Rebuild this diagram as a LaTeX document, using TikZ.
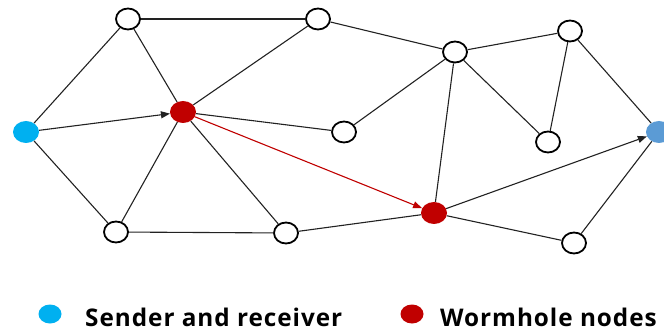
\documentclass[tikz,border=0pt]{standalone}
\usepackage{fontspec}
\setmainfont{Open Sans}
\newfontfamily\legfont[LetterSpace=4]{Open Sans}
\usetikzlibrary{shapes.geometric,arrows.meta}
\definecolor{sendc}{HTML}{00B0F0}
\definecolor{recvc}{HTML}{5B9BD5}
\definecolor{wormc}{HTML}{C00000}
\definecolor{edgec}{HTML}{222222}
\begin{document}
\begin{tikzpicture}[x=1pt,y=-1pt,
  opennode/.style={ellipse,draw=black,line width=1.8pt,fill=white,minimum width=24pt,minimum height=21pt,inner sep=0pt},
  filled/.style={ellipse,draw=none,minimum width=26pt,minimum height=22pt,inner sep=0pt},
  link/.style={draw=edgec,line width=1.1pt},
  arr/.style={link,-{Triangle[length=9pt,width=7pt]}},
  redarr/.style={draw=wormc,line width=1.1pt,-{Triangle[length=9pt,width=7pt]}},
  legdot/.style={ellipse,draw=none,minimum width=23pt,minimum height=19pt,inner sep=0pt},
  legtext/.style={anchor=base west,inner sep=0pt,font=\legfont\bfseries\fontsize{24.3pt}{28pt}\selectfont}
]
\useasboundingbox (0,0) rectangle (664,331);
\path (26,132) node[filled,fill=sendc] (S) {};
\path (659,132) node[filled,fill=recvc] (R) {};
\path (128,19) node[opennode] (A) {};
\path (318,19) node[opennode] (B) {};
\path (183,112) node[filled,fill=wormc] (W1) {};
\path (116,232) node[opennode] (C) {};
\path (286,233) node[opennode] (D) {};
\path (344,132) node[opennode] (I) {};
\path (455,52) node[opennode] (E) {};
\path (570,31) node[opennode] (F) {};
\path (548,142) node[opennode] (G) {};
\path (434,213) node[filled,fill=wormc] (W2) {};
\path (574,243) node[opennode] (H) {};
\draw[link] (S) -- (A);
\draw[link] (S) -- (C);
\draw[link] (A) -- (B);
\draw[link] (A) -- (W1);
\draw[link] (B) -- (W1);
\draw[link] (W1) -- (I);
\draw[link] (W1) -- (C);
\draw[link] (W1) -- (D);
\draw[link] (C) -- (D);
\draw[link] (D) -- (W2);
\draw[link] (B) -- (E);
\draw[link] (I) -- (E);
\draw[link] (E) -- (F);
\draw[link] (E) -- (G);
\draw[link] (E) -- (W2);
\draw[link] (F) -- (G);
\draw[link] (F) -- (R);
\draw[link] (W2) -- (H);
\draw[link] (H) -- (R);
\draw[arr] (S) -- (W1);
\draw[arr] (W2) -- (R);
\draw[redarr] (W1) -- (W2);
% legend
\node[legdot,fill=sendc] (L1) at (50,314) {};
\node[legtext] (T1) at (85,326) {Sender and receiver};
\node[legdot,fill=wormc] (L2) at (412,314) {};
\node[legtext] (T2) at (440,326) {Wormhole nodes};
\end{tikzpicture}
\end{document}
